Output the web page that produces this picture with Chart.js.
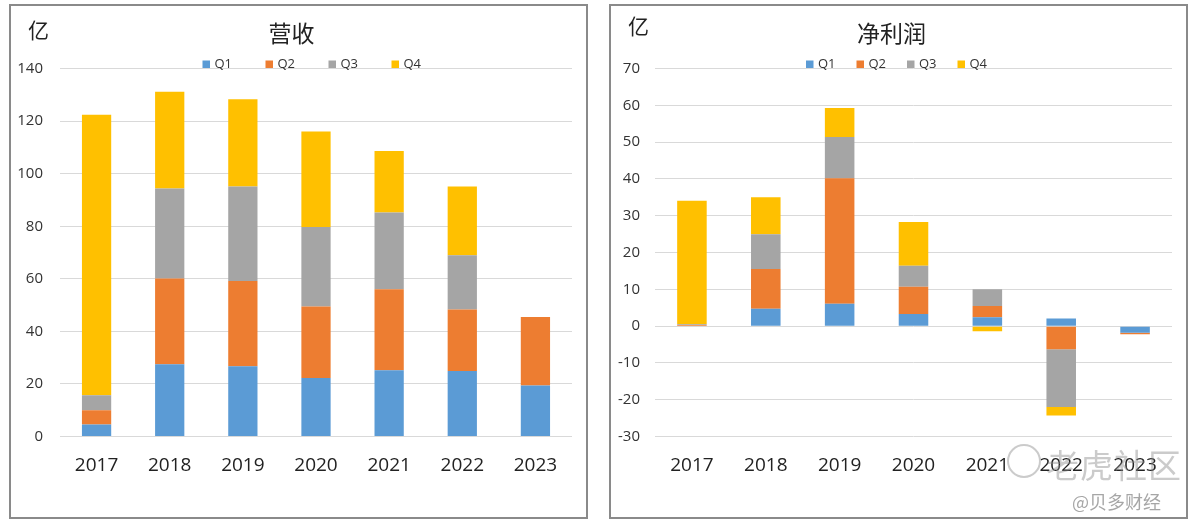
<!DOCTYPE html>
<html>
<head>
<meta charset="utf-8">
<script src="https://cdn.jsdelivr.net/npm/chart.js@4.4.1/dist/chart.umd.min.js"></script>
<style>
  html, body { margin: 0; padding: 0; background: #ffffff; }
  body { width: 1196px; height: 528px; position: relative; overflow: hidden; font-family: 'Open Sans', 'Noto Sans CJK SC', sans-serif; }
  .panel { position: absolute; top: 4px; width: 575px; height: 511px; border: 2px solid #8a8a8a; background: #fff; }
  .panel canvas { position: absolute; left: 0; top: 0; }
  .unit { position: absolute; font-family: 'Noto Sans CJK SC', sans-serif; font-size: 21px; color: #222; line-height: 1; }
  .wm1 { position: absolute; left: 1046px; top: 440px; font-family: 'Noto Sans CJK SC', sans-serif; font-size: 33px; color: rgba(140,140,140,0.45); letter-spacing: 1px; }
  .wm-logo { position: absolute; left: 1007px; top: 444px; width: 30px; height: 30px; border: 2px solid rgba(160,160,160,0.55); border-radius: 50%; }
  .wm2 { position: absolute; left: 1072px; top: 488px; font-family: 'Noto Sans CJK SC', sans-serif; font-size: 18px; color: rgba(150,150,150,0.85); }
</style>
</head>
<body>
<div class="panel" id="p1" style="left:9px;"><canvas id="c1" width="575" height="511"></canvas></div>
<div class="panel" id="p2" style="left:609px;"><canvas id="c2" width="575" height="511"></canvas></div>
<div class="unit" style="left:28px; top:19px;">亿</div>
<div class="unit" style="left:628px; top:15px;">亿</div>
<div class="wm-logo"></div>
<div class="wm1">老虎社区</div>
<div class="wm2">@贝多财经</div>
<script>
// ---- Data ----
const years = ['2017', '2018', '2019', '2020', '2021', '2022', '2023'];
const seriesNames = ['Q1', 'Q2', 'Q3', 'Q4'];
const seriesColors = ['#5B9BD5', '#ED7D31', '#A5A5A5', '#FFC000'];

// 营收 (亿)
const revQ1 = [4.6, 27.5, 26.7, 22.3, 25.2, 24.9, 19.4];
const revQ2 = [5.4, 32.6, 32.5, 27.2, 30.8, 23.4, 26.1];
const revQ3 = [5.7, 34.3, 35.9, 30.2, 29.2, 20.7, null];
const revQ4 = [106.7, 36.8, 33.2, 36.4, 23.4, 26.1, null];

// 净利润 (亿)
const npQ1 = [0.1, 4.7, 6.1, 3.3, 2.4, 2.1, -1.8];
const npQ2 = [0.2, 10.8, 34.1, 7.4, 3.1, -6.3, -0.4];
const npQ3 = [0.2, 9.5, 11.2, 5.7, 4.5, -15.7, null];
const npQ4 = [33.6, 10.0, 7.9, 11.9, -1.4, -2.3, null];

const revTicks = { min: 0, max: 140, step: 20 };
const npTicks = { min: -30, max: 70, step: 10 };

Chart.defaults.font.family = "'Open Sans', 'Noto Sans CJK SC', sans-serif";
Chart.defaults.animation = false;

// custom legend drawn with the chart's own dataset labels/colors
const manualLegend = {
  id: 'manualLegend',
  afterDraw(chart, args, opts) {
    const ctx = chart.ctx;
    ctx.save();
    ctx.font = "13px 'Open Sans', sans-serif";
    ctx.textBaseline = 'middle';
    ctx.textAlign = 'left';
    chart.data.datasets.forEach((ds, i) => {
      const x = opts.startX + i * opts.spacing;
      ctx.fillStyle = ds.backgroundColor;
      ctx.fillRect(x, opts.y - 3.5, 7.5, 7.5);
      ctx.fillStyle = '#333';
      ctx.fillText(ds.label, x + 12, opts.y);
    });
    ctx.restore();
  }
};

function makeDatasets(arrs) {
  return arrs.map((a, i) => ({
    label: seriesNames[i],
    data: a,
    backgroundColor: seriesColors[i],
    borderWidth: 0,
    categoryPercentage: 1.0,
    barPercentage: 0.4,
    stack: 's'
  }));
}

function makeChart(id, title, arrs, tk, yWidth, yPad, legendOpts) {
  return new Chart(document.getElementById(id), {
    type: 'bar',
    data: { labels: years, datasets: makeDatasets(arrs) },
    options: {
      responsive: false,
      maintainAspectRatio: false,
      layout: { padding: { left: 0, right: 14, top: 0, bottom: 0 } },
      plugins: {
        legend: { display: false },
        tooltip: { enabled: false },
        title: {
          display: true,
          text: title,
          color: '#222',
          font: { family: "'Noto Sans CJK SC', sans-serif", size: 23, weight: 'normal', lineHeight: 1.2 },
          padding: { top: 13.5, bottom: 21.5 }
        },
        manualLegend: legendOpts
      },
      scales: {
        x: {
          stacked: true,
          grid: { display: false, drawTicks: false },
          border: { display: false },
          ticks: { color: '#222', font: { size: 19 }, padding: 18, maxRotation: 0 },
          afterFit: s => { s.height = 80.5; }
        },
        y: {
          stacked: true,
          min: tk.min, max: tk.max,
          grid: { color: '#d9d9d9', lineWidth: 1, drawTicks: false },
          border: { display: false },
          ticks: { stepSize: tk.step, color: '#333', font: { size: 15 }, padding: yPad },
          afterFit: s => { s.width = yWidth; }
        }
      }
    },
    plugins: [manualLegend]
  });
}

makeChart('c1', '营收', [revQ1, revQ2, revQ3, revQ4], revTicks, 49, 17,
  { startX: 191.5, spacing: 63, y: 58 });
makeChart('c2', '净利润', [npQ1, npQ2, npQ3, npQ4], npTicks, 44, 15,
  { startX: 195, spacing: 50.5, y: 58 });
</script>
</body>
</html>
